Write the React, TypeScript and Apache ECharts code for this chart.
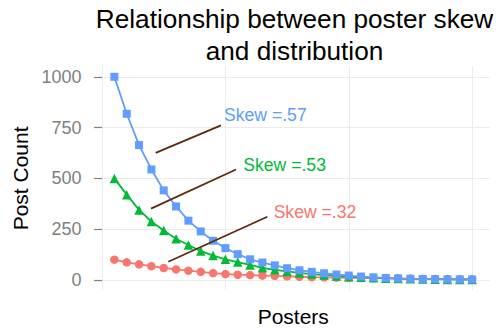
import React, { useEffect, useRef } from "react";
import * as echarts from "echarts";

const posters = [1, 2, 3, 4, 5, 6, 7, 8, 9, 10, 11, 12, 13, 14, 15, 16, 17, 18, 19, 20, 21, 22, 23, 24, 25, 26, 27, 28, 29, 30];
const skew32 = [100, 87, 77, 68, 59, 52, 46, 40, 34, 29, 26, 24, 22, 20, 18, 16, 14, 13, 12, 11, 10, 9, 8, 7, 6, 5.5, 5, 4.5, 4, 3.5];
const skew53 = [500, 420, 345, 288, 244, 203, 172, 143, 120, 102, 88, 74, 60, 50, 42, 35, 29, 24, 20, 16, 13, 11, 9, 7, 6, 5, 4, 3, 3, 2];
const skew57 = [1000, 818, 664, 544, 441, 362, 292, 239, 193, 157, 127, 102, 86, 72, 58, 48, 40, 33, 27, 22, 17, 13, 10, 8, 6, 5, 4, 3, 3, 2];
const yTicks = [0, 250, 500, 750, 1000];
const xBreaks = [0, 10, 20, 30];

const labels = ["Skew =.57", "Skew =.53", "Skew =.32"];
const labelPos = [[13.24, 811], [14.8, 566], [17.26, 337]];
const segStart = [[4.35, 626], [3.97, 351], [5.37, 90]];
const segEnd = [[9.64, 761], [10.86, 544], [13.4, 311]];

const RED = "#F8766D";
const GREEN = "#00BA38";
const BLUE = "#619CFF";
const BROWN = "#5E2A0E";
const FONT = "Liberation Sans";

export default function App() {
  const ref = useRef<HTMLDivElement>(null);
  useEffect(() => {
    const chart = echarts.init(ref.current!, null, { renderer: "svg" });
    const mk = (ys: number[]) => posters.map((x, i) => [x, ys[i]]);
    const labelColors = [BLUE, GREEN, RED];
    chart.setOption({
      animation: false,
      backgroundColor: "#ffffff",
      textStyle: { fontFamily: FONT },
      title: {
        text: "Relationship between poster skew\nand distribution",
        left: 294.5,
        top: 3.5,
        padding: 0,
        textAlign: "center",
        textStyle: { fontFamily: FONT, fontSize: 26.2, fontWeight: "normal", color: "#000", lineHeight: 31.6 },
      },
      grid: [
        { left: 96.5, width: 393.5, top: 76.8, height: 203.2, outerBoundsMode: "none", containLabel: false },
        { left: 102.05, width: 370.05, top: 66.6, height: 223.6, outerBoundsMode: "none", containLabel: false },
      ],
      xAxis: [
        {
          type: "value", gridIndex: 0, min: -0.45, max: 31.45,
          axisLine: { show: false }, axisTick: { show: false }, axisLabel: { show: false }, splitLine: { show: false },
          name: "Posters", nameLocation: "middle", nameGap: 28,
          nameTextStyle: { fontFamily: FONT, fontSize: 21, color: "#000", lineHeight: 16 },
        },
        {
          type: "value", gridIndex: 1, min: xBreaks[0], max: xBreaks[xBreaks.length - 1], interval: 10,
          axisLine: { show: false }, axisTick: { show: false }, axisLabel: { show: false },
          splitLine: { show: true, lineStyle: { color: "#EBEBEB", width: 1 } },
        },
      ],
      yAxis: [
        {
          type: "value", gridIndex: 0, min: yTicks[0], max: yTicks[yTicks.length - 1], interval: 250,
          axisLine: { show: false },
          axisTick: { show: true, length: 8, lineStyle: { color: "#7F7F7F", width: 1.2 } },
          axisLabel: { fontFamily: FONT, fontSize: 18, color: "#7F7F7F", margin: 15, formatter: (v: number) => String(v) },
          splitLine: { show: true, lineStyle: { color: "#EBEBEB", width: 1 } },
          name: "Post Count", nameLocation: "middle", nameGap: 61, nameRotate: 90,
          nameTextStyle: { fontFamily: FONT, fontSize: 21, color: "#000" },
        },
        {
          type: "value", gridIndex: 1, min: -50, max: 1050,
          axisLine: { show: false }, axisTick: { show: false }, axisLabel: { show: false }, splitLine: { show: false },
        },
      ],
      series: [
        {
          type: "line", xAxisIndex: 0, yAxisIndex: 0, data: mk(skew32), clip: false,
          symbol: "circle", symbolSize: 8.5, showAllSymbol: true,
          lineStyle: { color: RED, width: 1.8 }, itemStyle: { color: RED },
        },
        {
          type: "line", xAxisIndex: 0, yAxisIndex: 0, data: mk(skew53), clip: false,
          symbol: "triangle", symbolSize: 9.5, showAllSymbol: true,
          lineStyle: { color: GREEN, width: 1.8 }, itemStyle: { color: GREEN },
        },
        {
          type: "line", xAxisIndex: 0, yAxisIndex: 0, data: mk(skew57), clip: false,
          symbol: "rect", symbolSize: 8, showAllSymbol: true,
          lineStyle: { color: BLUE, width: 1.8 }, itemStyle: { color: BLUE },
          markLine: {
            silent: true, symbol: ["none", "none"], animation: false,
            label: { show: false },
            lineStyle: { color: BROWN, width: 1.8, type: "solid" },
            data: segStart.map((s, i) => [{ coord: s }, { coord: segEnd[i] }]),
          },
          markPoint: {
            silent: true, symbol: "circle", symbolSize: 0, animation: false,
            data: labels.map((t, i) => ({
              name: t, coord: labelPos[i],
              label: { show: true, position: "inside", formatter: t, color: labelColors[i], fontFamily: FONT, fontSize: 17.6 },
            })),
          },
        },
      ],
    });
    return () => chart.dispose();
  }, []);
  return <div ref={ref} style={{ width: 499, height: 328, position: "absolute", left: 0, top: 0 }} />;
}
